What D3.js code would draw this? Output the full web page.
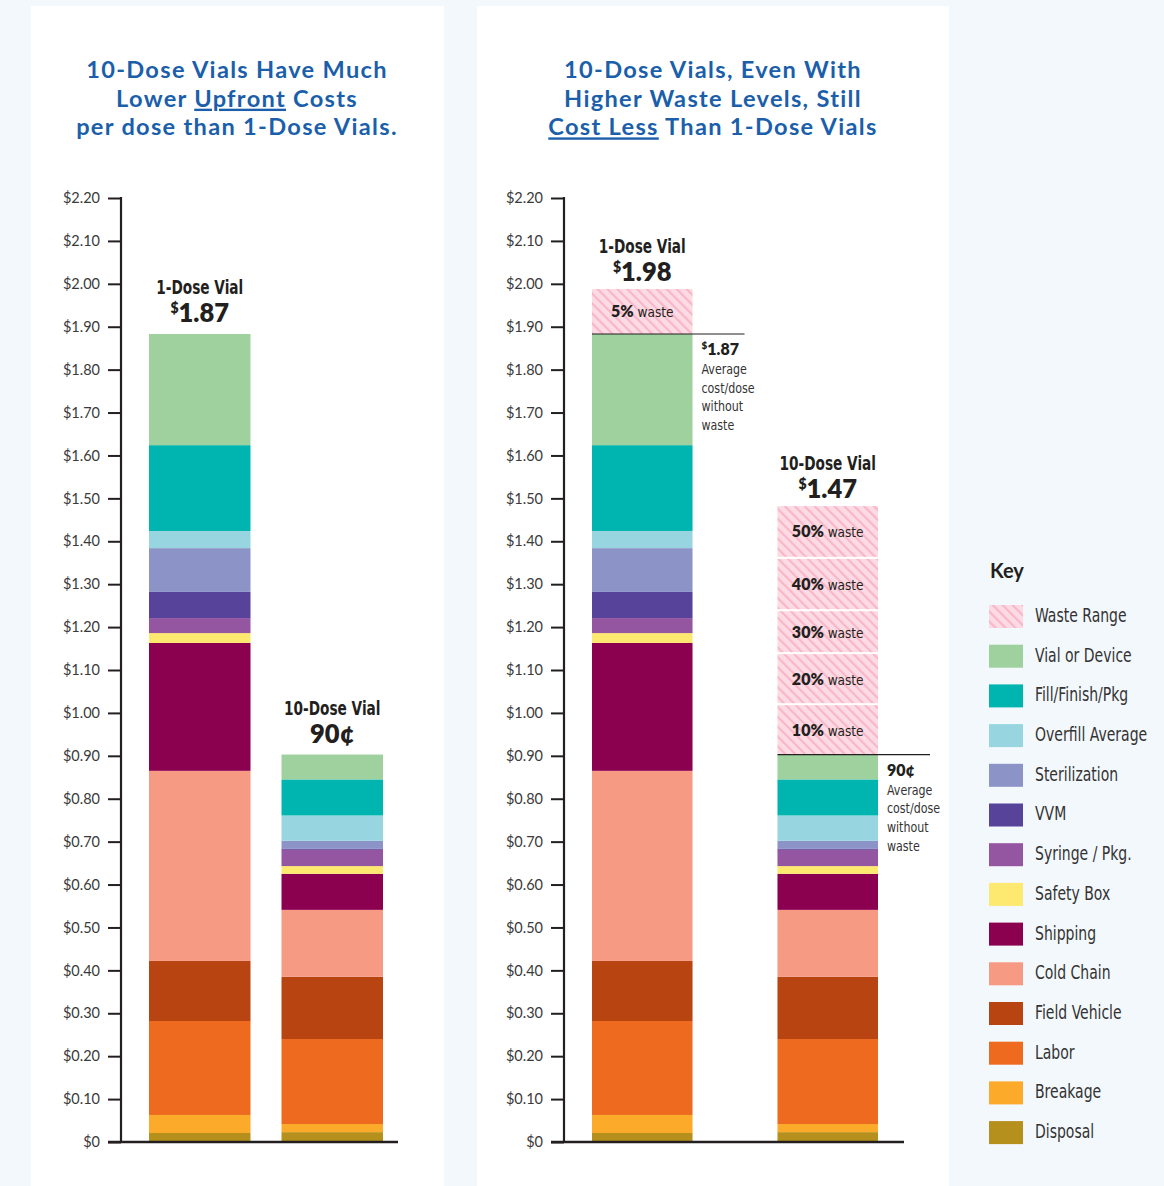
<!DOCTYPE html>
<html>
<head>
<meta charset="utf-8">
<script src="https://cdn.jsdelivr.net/npm/d3@7/dist/d3.min.js"></script>
<style>
  html, body { margin: 0; padding: 0; background: #f3f8fc; }
  svg { display: block; }
</style>
</head>
<body>
<svg id="chart" width="1164" height="1186"></svg>
<script>
// ---------------- DATA ----------------
const categories = ["Disposal", "Breakage", "Labor", "Field Vehicle", "Cold Chain", "Shipping",
  "Safety Box", "Syringe / Pkg.", "VVM", "Sterilization", "Overfill Average", "Fill/Finish/Pkg", "Vial or Device"];
const categoryColors = ["#b5901c", "#fcaa29", "#ed6a1f", "#b84511", "#f69a83", "#8c0050",
  "#fde870", "#9455a1", "#574399", "#8c93c7", "#97d6e0", "#00b5b0", "#9fd19f"];
const vialTypes = ["1-Dose Vial", "10-Dose Vial"];
const oneDoseValues = [0.021, 0.042, 0.219, 0.140, 0.443, 0.298, 0.023, 0.035, 0.061, 0.102, 0.040, 0.200, 0.259];
const tenDoseValues = [0.023, 0.019, 0.198, 0.145, 0.156, 0.084, 0.018, 0.038, 0.003, 0.018, 0.059, 0.084, 0.058];
const priceLabels = { "1-Dose Vial": ["$", "1.87"], "10-Dose Vial": ["", "90¢"] };
const wastePriceLabels = { "1-Dose Vial": ["$", "1.98"], "10-Dose Vial": ["$", "1.47"] };
const oneDoseWasteLevels = ["5%"];
const oneDoseWasteTops = [1.988];
const tenDoseWasteLevels = ["10%", "20%", "30%", "40%", "50%"];
const tenDoseWasteTops = [1.018, 1.137, 1.237, 1.359, 1.482];
const yTickValues = [0, 0.1, 0.2, 0.3, 0.4, 0.5, 0.6, 0.7, 0.8, 0.9, 1.0, 1.1, 1.2, 1.3, 1.4, 1.5, 1.6, 1.7, 1.8, 1.9, 2.0, 2.1, 2.2];
const yTickLabels = ["$0", "$0.10", "$0.20", "$0.30", "$0.40", "$0.50", "$0.60", "$0.70", "$0.80", "$0.90", "$1.00",
  "$1.10", "$1.20", "$1.30", "$1.40", "$1.50", "$1.60", "$1.70", "$1.80", "$1.90", "$2.00", "$2.10", "$2.20"];
const annotationLines = ["Average", "cost/dose", "without", "waste"];
const legendLabels = ["Waste Range"].concat(categories.slice().reverse());

// ---------------- SETUP ----------------
const svg = d3.select("#chart");
const TITLE_BLUE = "#1b5fab";
const INK = "#231f20";
const TEXT = "#333333";
const condFont = "'Liberation Sans Narrow', 'DejaVu Sans Condensed', 'Roboto Condensed', 'Roboto', sans-serif";
const mainFont = "Lato, 'Open Sans', sans-serif";

function squeeze(sel, cx, k) {
  sel.attr("transform", `translate(${cx},0) scale(${k},1) translate(${-cx},0)`);
}

// pattern for waste
const defs = svg.append("defs");
const pat = defs.append("pattern")
  .attr("id", "waste").attr("patternUnits", "userSpaceOnUse")
  .attr("width", 7).attr("height", 7).attr("patternTransform", "rotate(-45)");
pat.append("rect").attr("width", 7).attr("height", 7).attr("fill", "#fddbe4");
pat.append("rect").attr("x", 0).attr("y", 0).attr("width", 2.2).attr("height", 7).attr("fill", "#f8b6c9");

// panels
svg.append("rect").attr("x", 31).attr("y", 6).attr("width", 413).attr("height", 1180).attr("fill", "#ffffff");
svg.append("rect").attr("x", 477).attr("y", 6).attr("width", 472).attr("height", 1180).attr("fill", "#ffffff");

const y = d3.scaleLinear().domain([0, 2.2]).range([1142, 198]);

const rows = vialTypes.map((v, i) => {
  const o = { vial: v };
  categories.forEach((c, j) => { o[c] = (i === 0 ? oneDoseValues : tenDoseValues)[j]; });
  return o;
});
const stacked = d3.stack().keys(categories)(rows);
const colorScale = d3.scaleOrdinal().domain(categories).range(categoryColors);

function drawTitle(cx, lines) {
  lines.forEach((parts, i) => {
    const line = svg.append("text").attr("text-anchor", "middle")
      .attr("font-family", mainFont).attr("font-weight", 700).attr("font-size", 23.6)
      .attr("letter-spacing", 1.3)
      .attr("fill", TITLE_BLUE)
      .attr("x", cx).attr("y", 78 + i * 28.7);
    parts.forEach(p => {
      const s = (typeof p === "string") ? { t: p } : p;
      line.append("tspan").text(s.t).attr("text-decoration", s.u ? "underline" : null);
    });
  });
}

function drawPanel(opts) {
  const g = svg.append("g");
  const x = d3.scaleBand().domain(vialTypes).range(opts.barRange).paddingInner(opts.pad).paddingOuter(0);

  const axis = d3.axisLeft(y).tickValues(yTickValues).tickFormat((d, i) => yTickLabels[i]).tickSize(13).tickPadding(8);
  const ag = g.append("g").attr("transform", `translate(${opts.axisX},0)`).call(axis);
  ag.select(".domain").remove();
  ag.selectAll(".tick line").attr("stroke", INK).attr("stroke-width", 2);
  ag.selectAll(".tick text").attr("font-family", mainFont).attr("font-size", 14.5).attr("fill", "#3a3a3a");
  g.append("line").attr("x1", opts.axisX).attr("x2", opts.axisX).attr("y1", y(2.2) - 1).attr("y2", y(0) + 1)
    .attr("stroke", INK).attr("stroke-width", 2.2);

  stacked.forEach(layer => {
    g.selectAll(null).data(layer).enter().append("rect")
      .attr("x", d => x(d.data.vial))
      .attr("width", x.bandwidth())
      .attr("y", d => y(d[1]))
      .attr("height", d => Math.max(0, y(d[0]) - y(d[1])))
      .attr("fill", colorScale(layer.key));
  });

  g.append("line").attr("x1", opts.axisX - 13).attr("x2", opts.baseEnd).attr("y1", y(0)).attr("y2", y(0))
    .attr("stroke", INK).attr("stroke-width", 2.4);

  return x;
}

function barTotal(i) {
  return d3.sum(i === 0 ? oneDoseValues : tenDoseValues);
}

function drawBarLabel(cx, topY, name, price, off1, off2) {
  const n = svg.append("text").attr("x", cx).attr("y", topY - off1).attr("text-anchor", "middle")
    .attr("font-family", condFont).attr("font-weight", 700).attr("font-size", 19).attr("fill", INK)
    .text(name);
  squeeze(n, cx, 0.8);
  const t = svg.append("text").attr("x", cx).attr("y", topY - off2).attr("text-anchor", "middle")
    .attr("font-family", mainFont).attr("font-weight", 800).attr("font-size", 25.5).attr("fill", INK);
  if (price[0]) t.append("tspan").text(price[0]).attr("font-size", 14).attr("dy", -9);
  t.append("tspan").text(price[1]).attr("dy", price[0] ? 9 : 0);
}

// ---- Left panel ----
drawTitle(237, [["10-Dose Vials Have Much"], ["Lower ", { t: "Upfront", u: true }, " Costs"], ["per dose than 1-Dose Vials."]]);
const xL = drawPanel({ axisX: 121, barRange: [149, 383], pad: 0.234, baseEnd: 398 });
vialTypes.forEach((v, i) => {
  drawBarLabel(xL(v) + xL.bandwidth() / 2, y(barTotal(i)), v, priceLabels[v], 40, 12);
});

// ---- Right panel ----
drawTitle(713, [["10-Dose Vials, Even With"], ["Higher Waste Levels, Still"], [{ t: "Cost Less", u: true }, " Than 1-Dose Vials"]]);
const xR = drawPanel({ axisX: 564, barRange: [592, 878], pad: 0.458, baseEnd: 904 });

function drawWaste(v, i, levels, tops) {
  const x0 = xR(v), bw = xR.bandwidth(), cx = x0 + bw / 2;
  const base = barTotal(i);
  const bottoms = [base].concat(tops.slice(0, -1));
  const wg = svg.append("g");
  levels.forEach((lv, k) => {
    const yt = y(tops[k]);
    const yb = y(bottoms[k]) - (k === 0 ? 0 : 2);
    wg.append("rect").attr("x", x0).attr("width", bw).attr("y", yt).attr("height", yb - yt).attr("fill", "url(#waste)");
    const t = wg.append("text").attr("x", cx).attr("y", (yt + yb) / 2 + 6).attr("text-anchor", "middle").attr("fill", INK);
    t.append("tspan").text(lv).attr("font-family", mainFont).attr("font-weight", 800).attr("font-size", 16);
    t.append("tspan").text(" waste").attr("font-family", condFont).attr("font-size", 13.5);
  });
  wg.append("line").attr("x1", x0).attr("x2", x0 + bw + 52).attr("y1", y(base)).attr("y2", y(base))
    .attr("stroke", INK).attr("stroke-width", 1.2);
  const ax = x0 + bw + 9;
  const at = wg.append("text").attr("x", ax).attr("y", y(base) + 21).attr("fill", INK)
    .attr("font-family", mainFont).attr("font-weight", 800).attr("font-size", 16);
  const pl = priceLabels[v];
  if (pl[0]) at.append("tspan").text(pl[0]).attr("font-size", 10).attr("dy", -6);
  at.append("tspan").text(pl[1]).attr("dy", pl[0] ? 6 : 0);
  annotationLines.forEach((ln, k) => {
    const a = wg.append("text").attr("x", ax).attr("y", y(base) + 40 + k * 18.7)
      .attr("font-family", condFont).attr("font-size", 14).attr("fill", TEXT)
      .text(ln);
    squeeze(a, ax, 0.88);
  });
  drawBarLabel(cx, y(tops[tops.length - 1]), v, wastePriceLabels[v], 36, 8);
}
drawWaste(vialTypes[0], 0, oneDoseWasteLevels, oneDoseWasteTops);
drawWaste(vialTypes[1], 1, tenDoseWasteLevels, tenDoseWasteTops);

// ---- Legend ----
const lg = svg.append("g");
lg.append("text").attr("x", 990).attr("y", 578).attr("font-family", mainFont).attr("font-weight", 700)
  .attr("font-size", 20).attr("fill", INK).text("Key");
const legendColors = ["url(#waste)"].concat(categoryColors.slice().reverse());
legendLabels.forEach((lab, i) => {
  const yy = 605 + i * 39.7;
  lg.append("rect").attr("x", 989).attr("y", yy).attr("width", 34).attr("height", 23).attr("fill", legendColors[i]);
  const t = lg.append("text").attr("x", 1035).attr("y", yy + 17).attr("font-family", condFont).attr("font-size", 19)
    .attr("fill", TEXT).text(lab);
  squeeze(t, 1035, 0.82);
});
</script>
</body>
</html>
